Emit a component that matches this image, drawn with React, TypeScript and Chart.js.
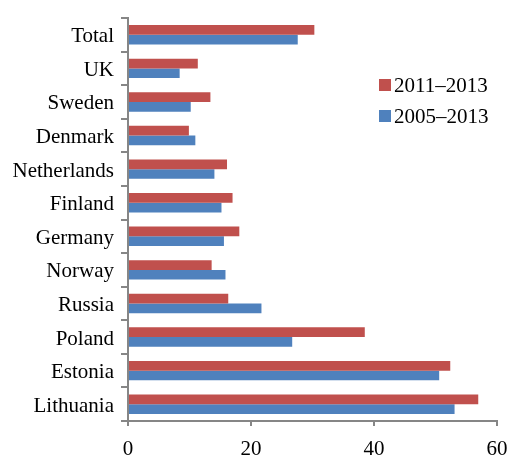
import React, { useEffect, useRef } from "react";
import { Chart, registerables } from "chart.js";

Chart.register(...registerables);

const categories = [
  "Total",
  "UK",
  "Sweden",
  "Denmark",
  "Netherlands",
  "Finland",
  "Germany",
  "Norway",
  "Russia",
  "Poland",
  "Estonia",
  "Lithuania",
];
const series2011 = [30.3, 11.35, 13.4, 9.9, 16.1, 17.0, 18.1, 13.6, 16.3, 38.5, 52.4, 56.95];
const series2005 = [27.6, 8.4, 10.2, 10.95, 14.05, 15.2, 15.6, 15.85, 21.7, 26.7, 50.6, 53.1];
const seriesLabels = ["2011–2013", "2005–2013"];
const xTicks = [0, 20, 40, 60];

const FONT = "'Liberation Serif', 'Times New Roman', serif";
const AXIS = "#868686";

const legendPlugin = {
  id: "customLegend",
  afterDraw(chart: any, _args: any, opts: any) {
    const ctx = chart.ctx;
    ctx.save();
    ctx.font = `21px ${FONT}`;
    ctx.textBaseline = "middle";
    ctx.textAlign = "left";
    chart.data.datasets.forEach((ds: any, i: number) => {
      const cy = opts.y + i * opts.gap;
      ctx.fillStyle = ds.backgroundColor;
      ctx.fillRect(opts.x, cy - 6, 12, 12);
      ctx.fillStyle = "#000";
      ctx.fillText(ds.label, opts.x + 15, cy + 1);
    });
    ctx.restore();
  },
};

export default function App() {
  const ref = useRef<HTMLCanvasElement>(null);
  useEffect(() => {
    document.body.style.margin = "0";
    const chart = new Chart(ref.current!, {
      type: "bar",
      data: {
        labels: categories,
        datasets: [
          { label: seriesLabels[0], data: series2011, backgroundColor: "#C0504D" },
          { label: seriesLabels[1], data: series2005, backgroundColor: "#4F81BD" },
        ],
      },
      plugins: [legendPlugin],
      options: {
        indexAxis: "y",
        animation: false,
        responsive: false,
        maintainAspectRatio: false,
        layout: { padding: { top: 18, right: 0, left: 0, bottom: 0 } },
        datasets: { bar: { categoryPercentage: 0.58, barPercentage: 1 } },
        plugins: {
          legend: { display: false },
          tooltip: { enabled: false },
          customLegend: { x: 379, y: 85, gap: 31 },
        } as any,
        scales: {
          x: {
            min: 0,
            max: 60,
            afterBuildTicks: (s: any) => {
              s.ticks = xTicks.map((v) => ({ value: v }));
            },
            afterFit: (s: any) => {
              s.height = 38;
              s.paddingRight = 12;
              s.paddingLeft = 0;
            },
            border: { display: true, color: AXIS, width: 2 },
            grid: { drawOnChartArea: false, color: AXIS, lineWidth: 2, tickLength: 5 },
            ticks: { color: "#000", font: { family: FONT, size: 21 }, padding: 11 },
          },
          y: {
            afterFit: (s: any) => {
              s.width = 128;
              s.paddingTop = 0;
              s.paddingBottom = 0;
            },
            border: { display: true, color: AXIS, width: 2 },
            grid: { drawOnChartArea: false, color: AXIS, lineWidth: 2, tickLength: 7, offset: true },
            ticks: { color: "#000", font: { family: FONT, size: 21 }, padding: 7, labelOffset: 2 },
          },
        },
      },
    });
    return () => chart.destroy();
  }, []);
  return <canvas ref={ref} width={509} height={459} style={{ display: "block" }} />;
}
